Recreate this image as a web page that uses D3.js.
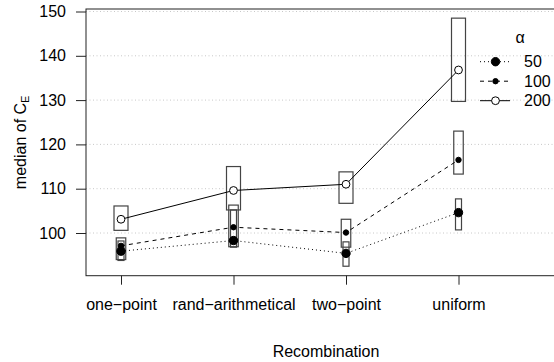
<!DOCTYPE html>
<html>
<head>
<meta charset="utf-8">
<script src="https://cdn.jsdelivr.net/npm/d3@7"></script>
<style>
  body { margin: 0; background: #fff; }
  svg text { font-family: "Liberation Sans", Arial, sans-serif; font-size: 16px; fill: #000; }
</style>
</head>
<body>
<svg id="chart" width="554" height="362"></svg>
<script>
const categories = ["one\u2212point", "rand\u2212arithmetical", "two\u2212point", "uniform"]
const alphas     = ["50", "100", "200"]
const yTicks     = [100, 110, 120, 130, 140, 150]

// medians per alpha, one value per recombination
const median50  = [95.9, 98.3, 95.4, 104.6]
const median100 = [97.1, 101.3, 100.1, 116.5]
const median200 = [103.1, 109.6, 111.0, 136.8]

// interval boxes [low, high]
const box50  = [[93.8, 98.2], [96.8, 105.2], [92.5, 98.0], [100.7, 107.7]]
const box100 = [[94.0, 98.9], [96.9, 106.3], [96.8, 103.1], [113.3, 123.0]]
const box200 = [[100.6, 106.1], [105.2, 115.0], [106.7, 113.8], [129.7, 148.5]]

const series = [
  { key: "50",  med: median50,  box: box50,  dash: "1,3", r: 4.2, fill: "#000", boxW: 6 },
  { key: "100", med: median100, box: box100, dash: "4,4", r: 2.7, fill: "#000", boxW: 9.5 },
  { key: "200", med: median200, box: box200, dash: null,  r: 3.9, fill: "#fff", boxW: 14 }
]

const FONT = "16px"
const svg = d3.select("#chart")
const pLeft = 86, pTop = 9, pBottom = 275.7, pRight = 560

const x = d3.scalePoint().domain(categories).range([121, 458.5])
const y = d3.scaleLinear().domain([100, 150]).range([233, 11.5])

// dotted grid
svg.append("g").selectAll("line")
  .data(yTicks).enter().append("line")
  .attr("x1", pLeft).attr("x2", pRight)
  .attr("y1", d => y(d)).attr("y2", d => y(d))
  .attr("stroke", "#c8c8c8").attr("stroke-dasharray", "1,2.5")

// frame (right side runs off the canvas)
svg.append("rect")
  .attr("x", pLeft).attr("y", pTop)
  .attr("width", pRight - pLeft).attr("height", pBottom - pTop)
  .attr("fill", "none").attr("stroke", "#222").attr("stroke-width", 1)

// y axis
const ya = svg.append("g")
  .attr("transform", `translate(${pLeft},0)`)
  .call(d3.axisLeft(y).tickValues(yTicks).tickSize(10).tickPadding(10))
ya.select(".domain").remove()
ya.selectAll("line").attr("stroke", "#222")
ya.selectAll("text").style("font-size", FONT).style("font-family", "Liberation Sans, Arial, sans-serif")

// x axis
const xa = svg.append("g")
  .attr("transform", `translate(0,${pBottom})`)
  .call(d3.axisBottom(x).tickSize(9).tickPadding(14))
xa.select(".domain").remove()
xa.selectAll("line").attr("stroke", "#222")
xa.selectAll("text").style("font-size", FONT).style("font-family", "Liberation Sans, Arial, sans-serif")

// boxes
series.forEach(s => {
  svg.append("g").selectAll("rect")
    .data(s.box).enter().append("rect")
    .attr("x", (d, i) => x(categories[i]) - s.boxW / 2)
    .attr("width", s.boxW)
    .attr("y", d => y(d[1]))
    .attr("height", d => y(d[0]) - y(d[1]))
    .attr("fill", "none").attr("stroke", "#444").attr("stroke-width", 1.2)
})

// lines + points
const line = d3.line().x((d, i) => x(categories[i])).y(d => y(d))
series.forEach(s => {
  svg.append("path")
    .datum(s.med)
    .attr("d", line)
    .attr("fill", "none").attr("stroke", "#000").attr("stroke-width", 1)
    .attr("stroke-dasharray", s.dash)
  svg.append("g").selectAll("circle")
    .data(s.med).enter().append("circle")
    .attr("cx", (d, i) => x(categories[i]))
    .attr("cy", d => y(d))
    .attr("r", s.r)
    .attr("fill", s.fill).attr("stroke", "#000").attr("stroke-width", 1)
})

// legend
const lg = svg.append("g")
lg.append("text").attr("x", 520).attr("y", 37).attr("dy", "0.35em")
  .attr("text-anchor", "middle").text("\u03b1")
const ly = d3.scalePoint().domain(alphas).range([61.7, 100.7])
series.forEach(s => {
  const yy = ly(s.key)
  lg.append("line").attr("x1", 480).attr("x2", 510).attr("y1", yy).attr("y2", yy)
    .attr("stroke", "#000").attr("stroke-dasharray", s.dash)
  lg.append("circle").attr("cx", 495.5).attr("cy", yy).attr("r", s.r)
    .attr("fill", s.fill).attr("stroke", "#000")
  lg.append("text").attr("x", 524).attr("y", yy).attr("dy", "0.35em").text(s.key)
})

// axis titles
svg.append("text").attr("x", 326).attr("y", 357)
  .attr("text-anchor", "middle").text("Recombination")
const yt = svg.append("text")
  .attr("transform", `translate(26,${(pTop + pBottom) / 2}) rotate(-90)`)
  .attr("text-anchor", "middle")
yt.append("tspan").text("median of C")
yt.append("tspan").attr("dy", 3).style("font-size", "11px").text("E")
</script>
</body>
</html>
